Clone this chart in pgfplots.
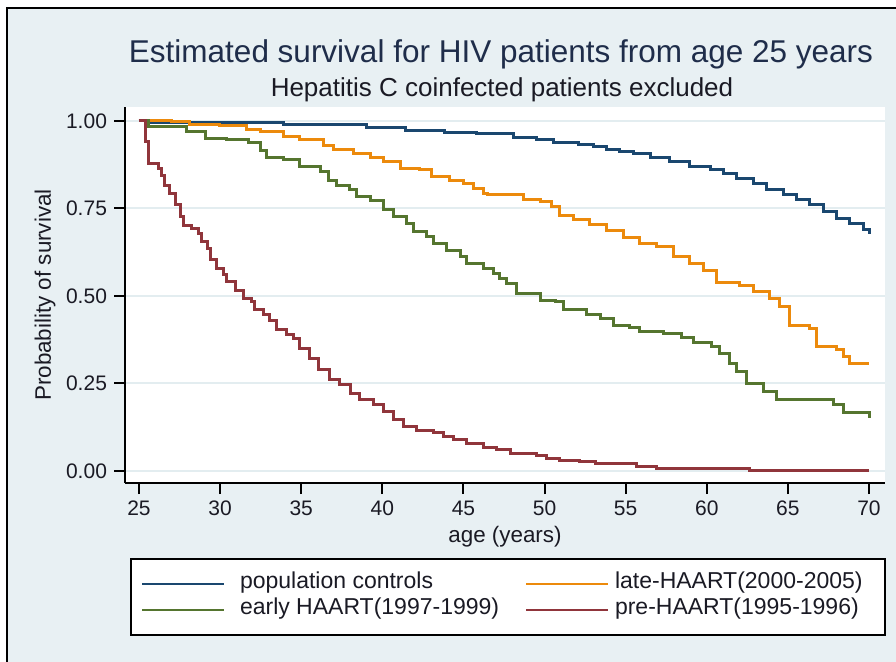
\documentclass[border=0pt]{standalone}
\usepackage{pgfplots}
\pgfplotsset{compat=1.18}
\usepackage{fontspec}
\setmainfont{Liberation Sans}
\definecolor{bgc}{HTML}{E8F0F3}
\definecolor{gridc}{HTML}{E3EDF0}
\definecolor{cnavy}{HTML}{1A476F}
\definecolor{corange}{HTML}{EC8A0C}
\definecolor{cgreen}{HTML}{55752F}
\definecolor{cmaroon}{HTML}{90353B}
\definecolor{titlec}{HTML}{1F2D4A}
\definecolor{txtc}{HTML}{1A1A24}

\pgfplotstableread{
x y
25.00 1.000
25.60 0.997
33.90 0.989
39.03 0.982
41.40 0.974
43.86 0.968
45.81 0.963
48.08 0.953
49.51 0.946
50.54 0.939
52.08 0.933
53.01 0.927
53.83 0.919
54.65 0.914
55.47 0.908
56.50 0.896
57.73 0.884
58.96 0.871
60.20 0.860
61.02 0.850
61.84 0.836
62.87 0.822
63.69 0.805
64.72 0.789
65.54 0.776
66.36 0.762
67.18 0.741
68.00 0.722
68.82 0.706
69.64 0.689
70.00 0.676
}\popdata

\pgfplotstableread{
x y
25.00 1.000
27.00 0.998
28.14 0.989
29.99 0.986
31.64 0.976
32.46 0.970
33.90 0.955
34.92 0.946
36.36 0.931
36.98 0.919
38.21 0.908
39.24 0.896
40.06 0.884
41.09 0.865
42.32 0.860
43.04 0.841
44.17 0.831
44.99 0.822
45.61 0.808
46.22 0.793
46.50 0.789
48.69 0.777
49.72 0.770
50.44 0.755
50.95 0.731
51.77 0.719
52.80 0.703
53.83 0.686
54.85 0.668
55.88 0.649
56.91 0.641
57.93 0.612
58.96 0.593
59.78 0.574
60.60 0.538
62.04 0.531
62.86 0.512
63.89 0.493
64.51 0.470
65.12 0.417
66.36 0.408
66.77 0.355
68.00 0.348
68.41 0.327
68.82 0.306
70.00 0.306
}\latedata

\pgfplotstableread{
x y
25.00 1.000
25.60 0.984
27.94 0.970
29.07 0.950
30.40 0.946
31.74 0.938
32.46 0.917
32.87 0.896
33.90 0.889
34.92 0.870
36.16 0.855
36.67 0.831
37.18 0.817
38.00 0.803
38.42 0.784
39.24 0.774
40.06 0.746
40.68 0.727
41.50 0.708
41.91 0.684
42.73 0.671
43.14 0.649
43.96 0.631
44.79 0.612
45.20 0.593
46.22 0.579
46.84 0.565
47.25 0.550
47.67 0.536
48.28 0.508
49.72 0.487
50.65 0.484
51.16 0.460
52.60 0.446
53.42 0.436
54.24 0.417
55.26 0.410
55.88 0.398
57.32 0.393
58.45 0.382
59.17 0.367
60.29 0.355
60.81 0.336
61.42 0.308
61.84 0.284
62.45 0.250
63.48 0.227
64.30 0.203
67.79 0.189
68.41 0.167
70.00 0.150
}\earlydata

\pgfplotstableread{
x y
25.00 1.000
25.43 0.941
25.57 0.879
26.19 0.865
26.40 0.845
26.60 0.817
26.91 0.793
27.22 0.760
27.53 0.727
27.73 0.700
28.25 0.693
28.66 0.679
28.86 0.655
29.21 0.636
29.38 0.603
29.79 0.579
30.20 0.560
30.40 0.541
30.92 0.517
31.43 0.493
31.94 0.484
32.15 0.460
32.66 0.446
33.07 0.431
33.49 0.403
34.10 0.389
34.51 0.379
34.92 0.350
35.54 0.322
36.05 0.289
36.77 0.260
37.39 0.246
38.01 0.222
38.62 0.203
39.44 0.189
40.06 0.170
40.68 0.146
41.29 0.127
42.12 0.117
43.14 0.110
43.76 0.098
44.38 0.089
45.20 0.079
46.22 0.067
47.05 0.060
47.87 0.050
49.51 0.043
50.12 0.036
50.95 0.031
52.18 0.027
53.11 0.020
55.67 0.012
56.91 0.006
62.66 0.000
70.00 0.000
}\predata

\begin{document}
\begin{tikzpicture}
\useasboundingbox (0,0) rectangle (448pt,-331pt);
\fill[white] (0,0) rectangle (448pt,-331pt);
\fill[bgc] (3.5pt,-4pt) rectangle (448pt,-331pt);
\draw[black,line width=1.2pt] (3.5pt,-331pt) -- (3.5pt,-4pt) -- (448pt,-4pt);
\node[anchor=base, font=\fontsize{15.75}{18}\selectfont, text=titlec, inner sep=0pt] at (250.5pt,-31.5pt) {Estimated survival for HIV patients from age 25 years};
\node[anchor=base, font=\fontsize{13}{15}\selectfont, text=txtc, inner sep=0pt] at (251pt,-48.5pt) {Hepatitis C coinfected patients excluded};
\begin{axis}[
  at={(62.5pt,-241.5pt)}, anchor=south west,
  scale only axis, width=380pt, height=188pt,
  xmin=24.137, xmax=70.986, ymin=-0.0343, ymax=1.04,
  axis x line*=bottom, axis y line*=left,
  axis line style={-, line width=1pt, black},
  axis background/.style={fill=white},
  xtick={25,30,...,70},
  ytick={0,0.25,0.5,0.75,1},
  /pgf/number format/assume math mode=true,
  yticklabel style={/pgf/number format/fixed, /pgf/number format/fixed zerofill, /pgf/number format/precision=2},
  tick label style={font=\fontsize{10.5}{12}\selectfont, text=txtc},
  tick align=outside, major tick length=5.5pt,
  tick style={line width=1pt, black},
  ymajorgrids, grid style={gridc, line width=1pt},
  xlabel={age (years)}, ylabel={Probability of survival},
  xlabel style={at={(axis description cs:0.5,-0.1436)}, anchor=center, font=\fontsize{11.2}{13}\selectfont, text=txtc},
  ylabel style={at={(axis description cs:-0.105,0.5)}, anchor=center, font=\fontsize{11.2}{13}\selectfont, text=txtc},
  legend columns=2,
  legend style={at={(axis description cs:0.0066,-0.1995)}, anchor=north west, draw=black, line width=1pt, fill=white,
    inner xsep=5pt, inner ysep=6pt, font=\fontsize{11.5}{13}\selectfont, text=txtc,
    nodes={inner sep=0pt, text height=8.5pt, text depth=4.5pt},
    /tikz/column 1/.style={column sep=7.5pt},
    /tikz/column 2/.style={column sep=12.5pt},
    /tikz/column 3/.style={column sep=3pt}},
  legend image code/.code={\draw[line width=1pt] (0pt,0pt) -- (41pt,0pt);},
  every axis plot/.append style={const plot mark left, no markers, line width=1.5pt},
]
\addplot[cnavy] table[x=x,y=y] {\popdata};
\addlegendentry{\makebox[130pt][l]{population controls}}
\addplot[corange] table[x=x,y=y] {\latedata};
\addlegendentry{\makebox[130pt][l]{late-HAART(2000-2005)}}
\addplot[cgreen] table[x=x,y=y] {\earlydata};
\addlegendentry{\makebox[130pt][l]{early HAART(1997-1999)}}
\addplot[cmaroon] table[x=x,y=y] {\predata};
\addlegendentry{\makebox[130pt][l]{pre-HAART(1995-1996)}}
\end{axis}
\end{tikzpicture}
\end{document}
